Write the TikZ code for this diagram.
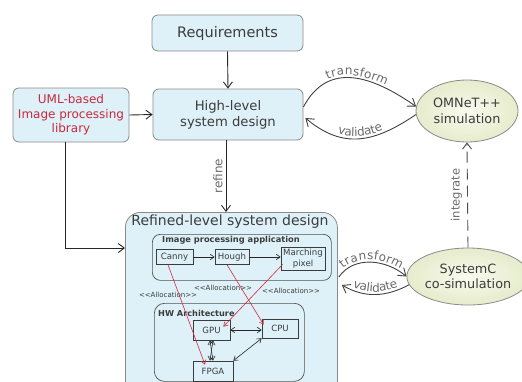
\documentclass[tikz,border=0pt]{standalone}
\usepackage{fontspec}
\setmainfont{DejaVu Sans}
\usetikzlibrary{shapes.geometric,arrows.meta,calc,decorations.text}
\definecolor{boxfill}{HTML}{DEF1F9}
\definecolor{boxline}{HTML}{8A8A8A}
\definecolor{txt}{HTML}{3C3C3C}
\definecolor{lbl}{HTML}{6A6A6A}
\definecolor{ellin}{HTML}{F8FAEE}
\definecolor{ellout}{HTML}{E6ECCC}
\definecolor{umlred}{HTML}{C8283C}
\definecolor{redarr}{HTML}{D42A3C}
\tikzset{
  fs/.style={font=\fontsize{#1pt}{\dimexpr #1pt*12/10\relax}\selectfont},
  bluebox/.style={draw=boxline, fill=boxfill, rounded corners=6pt, line width=0.8pt, text=txt, align=center, inner sep=0pt},
  simell/.style={ellipse, draw=boxline, inner color=ellin, outer color=ellout, line width=0.8pt, text=txt, align=center, inner sep=0pt, fs=12.8},
  smallbox/.style={draw=txt, line width=0.6pt, text=txt, align=center, inner sep=0pt, fs=8.6},
  grpbox/.style={draw=txt!90, line width=0.7pt, rounded corners=8pt},
  barb/.style={-{Straight Barb[length=6pt,width=9pt]}, line width=0.9pt, draw=black!85},
  sbarb/.style={-{Straight Barb[length=4pt,width=5.5pt]}, line width=0.6pt, draw=black!85},
  dbarb/.style={{Straight Barb[length=4pt,width=5.5pt]}-{Straight Barb[length=4pt,width=5.5pt]}, line width=0.6pt, draw=black!85},
  rbarb/.style={-{Straight Barb[length=4pt,width=5pt]}, line width=0.6pt, draw=redarr},
  lens/.style={-{Straight Barb[length=7pt,width=10pt]}, line width=0.9pt, draw=black!75},
  alloc/.style={text=txt, fs=7, inner sep=0pt},
  curvelbl/.style={decorate, decoration={text along path, text align=center, raise=2.5pt, text={|\fontsize{12pt}{14pt}\selectfont\color{lbl}|#1}}},
}
\begin{document}
\begin{tikzpicture}[x=1pt,y=1pt]
\useasboundingbox (0,0) rectangle (522,-381);

% top boxes
\node[bluebox, minimum width=151, minimum height=36, fs=14.5] (req) at (227.5,-33) {Requirements};
\node[bluebox, minimum width=150, minimum height=51, fs=13.2] (hl) at (228,-114.5) {High-level\\system design};
\node[bluebox, minimum width=116, minimum height=54, fs=12, text=umlred] (uml) at (71,-115) {UML-based\\Image processing\\library};

% ellipses
\node[simell, minimum width=102, minimum height=62] (omnet) at (467,-111) {OMNeT++\\simulation};
\node[simell, minimum width=106, minimum height=57] (sysc) at (468,-276.5) {SystemC\\co-simulation};

% refined box
\node[bluebox, rounded corners=15pt, minimum width=212, minimum height=210, anchor=north west] (ref) at (125,-212) {};
\node[text=txt, fs=14, inner sep=0pt] (reft) at (230,-222) {Refined-level system design};

% image processing application
\node[grpbox, minimum width=179, minimum height=46, anchor=north west, inner sep=0pt] (ipa) at (152,-234) {};
\node[text=txt, inner sep=0pt] (ipat) at (231,-240.5) {\fontsize{8.3pt}{10pt}\selectfont\bfseries Image processing application};
\node[smallbox, minimum width=37, minimum height=15] (canny) at (174.5,-257) {Canny};
\node[smallbox, minimum width=34, minimum height=15] (hough) at (232,-257) {Hough};
\node[smallbox, minimum width=44, minimum height=23] (march) at (303,-258.5) {Marching\\pixel};

% allocation labels
\node[alloc] (al1) at (168,-295) {<{}<Allocation>{}>};
\node[alloc] (al2) at (223,-288) {<{}<Allocation>{}>};
\node[alloc] (al3) at (291,-291) {<{}<Allocation>{}>};

% HW architecture
\node[grpbox, rounded corners=10pt, minimum width=150, minimum height=78, anchor=north west, inner sep=0pt] (hw) at (154,-303) {};
\node[text=txt, anchor=west, inner sep=0pt] (hwt) at (158,-313) {\fontsize{8.2pt}{10pt}\selectfont\bfseries HW Architecture};
\node[smallbox, minimum width=37, minimum height=20] (gpu) at (211.5,-330) {GPU};
\node[smallbox, minimum width=36, minimum height=19] (cpu) at (280,-328.5) {CPU};
\node[smallbox, minimum width=40, minimum height=20] (fpga) at (213,-371) {FPGA};

% main connectors
\draw[barb] (req.south) -- (hl.north);
\draw[barb] (uml.east) -- (hl.west);
\coordinate (refin) at ($(ref.north west)+(0,-36)$);
\draw[barb] ([xshift=-6pt]uml.south) |- (refin);
\draw[barb] ([xshift=-2pt]hl.south) -- ([xshift=-2pt]hl.south |- ref.north) node[midway, left=3pt, rotate=90, anchor=south, text=lbl, fs=12, inner sep=0pt] (reflbl) {refine};

% lens 1
\coordinate (a1) at ($(hl.east)+(0,7.5)$);
\coordinate (b1) at ($(hl.east)+(2,-3.5)$);
\coordinate (c1) at (omnet.175);
\coordinate (d1) at (omnet.184);
\draw[lens] (a1) to[out=62,in=145,looseness=1.2] (c1);
\draw[lens] (d1) to[out=214,in=-40,looseness=1.15] (b1);
\path[curvelbl=transform] (a1) to[out=62,in=145,looseness=1.2] (c1);
\path[curvelbl=validate] (b1) to[out=-40,in=214,looseness=1.15] (d1);

% lens 2
\coordinate (a2) at ($(ref.north east)+(1,-65)$);
\coordinate (b2) at ($(ref.north east)+(4,-73)$);
\coordinate (c2) at (sysc.180);
\coordinate (d2) at (sysc.188);
\draw[lens] (a2) to[out=55,in=140] (c2);
\draw[lens] (d2) to[out=208,in=-30] (b2);
\path[curvelbl=transform] (a2) to[out=55,in=140] (c2);
\path[curvelbl=validate] (b2) to[out=-30,in=208] (d2);

% integrate
\draw[-{Straight Barb[length=6pt,width=9pt]}, line width=0.9pt, draw=black!70, dash pattern=on 11pt off 6pt] (sysc.north) -- (omnet.south) node[midway, left=5pt, rotate=90, anchor=south, text=lbl, fs=11.5, inner sep=0pt] (intlbl) {integrate};

% inner arrows
\draw[sbarb] (canny.east) -- (hough.west);
\draw[sbarb] (hough.east) -- (march.west |- hough.east);
\draw[dbarb] (gpu.east) -- (cpu.west |- gpu.east);
\draw[dbarb] ([xshift=-1.5pt]gpu.south) -- ([xshift=1.5pt]gpu.south |- fpga.north);
\draw[dbarb] ([xshift=1.5pt]gpu.south) -- ([xshift=-1.5pt]gpu.south |- fpga.north);
\draw[dbarb] (cpu.south west) -- (fpga.north east);

% allocation arrows
\draw[rbarb] ([xshift=-6.5pt]canny.south) -- ($(fpga.north)+(-8,-4)$);
\draw[rbarb] ([xshift=-5pt]hough.south) -- ($(cpu.north west)+(2,-6)$);
\draw[rbarb] ($(march.south west)+(2,6)$) -- ($(gpu.north east)+(-7,-7)$);
\end{tikzpicture}
\end{document}
